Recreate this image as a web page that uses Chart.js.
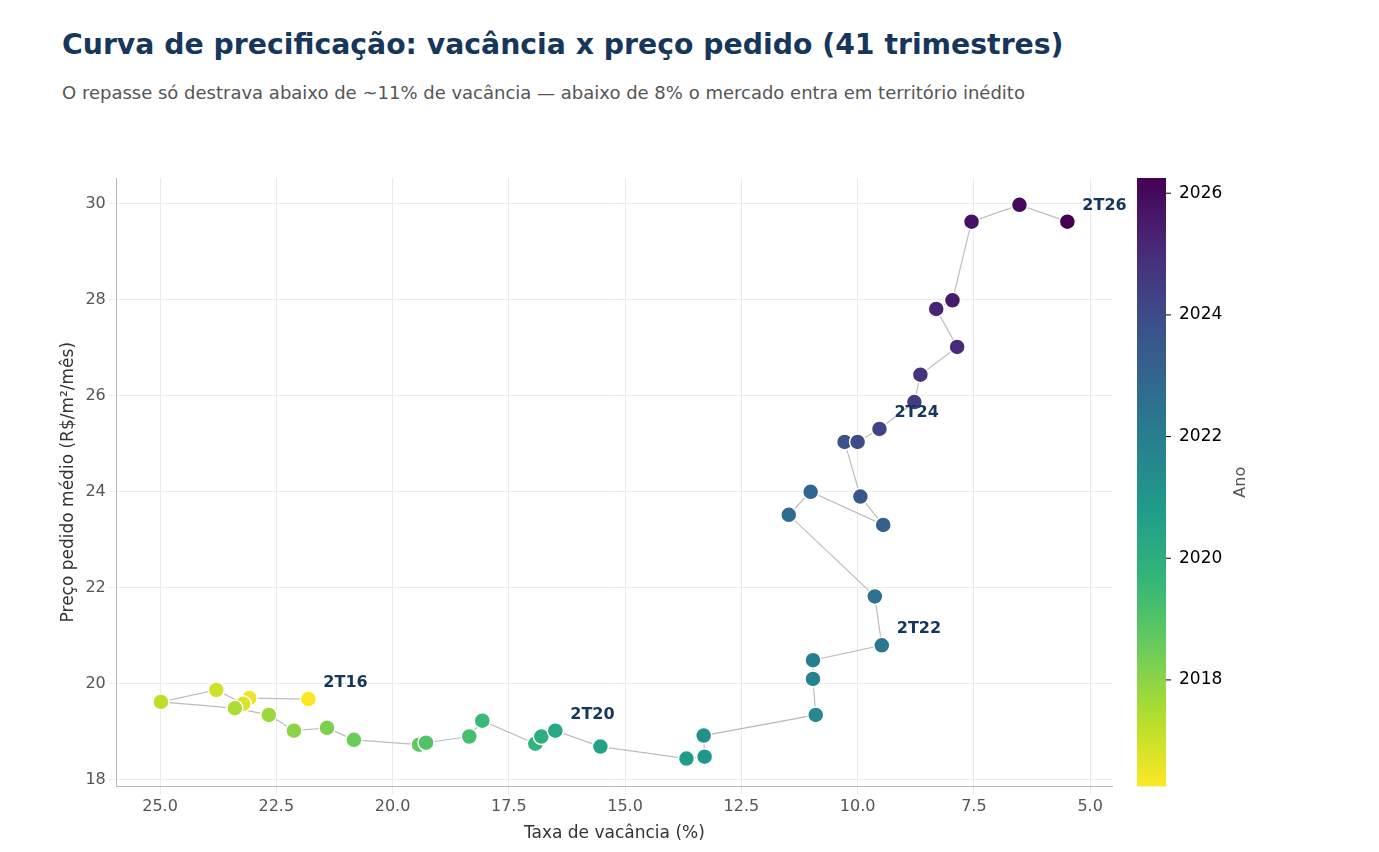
<!DOCTYPE html>
<html><head><meta charset="utf-8">
<script src="https://cdn.jsdelivr.net/npm/chart.js@4/dist/chart.umd.min.js"></script>
<style>
body{margin:0;background:#fff;font-family:"DejaVu Sans",sans-serif;}
#wrap{position:relative;width:1379px;height:852px;}
#titulo{position:absolute;left:62px;top:28px;font-size:28.3px;font-weight:bold;color:#16365c;}
#sub{position:absolute;left:62px;top:82px;font-size:18px;color:#555;}
canvas{position:absolute;left:0;top:0;}
</style></head><body>
<div id="wrap">
<div id="titulo">Curva de precificação: vacância x preço pedido (41 trimestres)</div>
<div id="sub">O repasse só destrava abaixo de ~11% de vacância — abaixo de 8% o mercado entra em território inédito</div>
<canvas id="c" width="1379" height="852"></canvas>
</div>
<script>
// vacância (%) e preço pedido por trimestre, 2T16 -> 2T26
const vacancia = [21.81,23.08,23.21,23.79,24.98,23.39,22.66,22.12,21.41,20.83,19.43,19.28,18.35,18.07,16.93,16.80,16.50,15.53,13.68,13.29,13.31,10.90,10.96,10.96,9.48,9.63,11.48,11.01,9.45,9.94,10.28,10.00,9.53,8.78,8.65,7.86,8.31,7.96,7.55,6.52,5.49];
const preco = [19.68,19.70,19.58,19.87,19.62,19.49,19.35,19.02,19.08,18.83,18.73,18.77,18.90,19.23,18.75,18.90,19.02,18.69,18.44,18.48,18.92,19.35,20.10,20.49,20.80,21.82,23.52,24.00,23.31,23.90,25.04,25.04,25.31,25.87,26.44,27.02,27.81,27.99,29.63,29.98,29.63];
const rotulos = {0:"2T16",16:"2T20",24:"2T22",32:"2T24",40:"2T26"};
const anoTicks = [2018,2020,2022,2024,2026];
const anoMin = 2016.25, anoMax = 2026.25;

Chart.defaults.font.family = "'DejaVu Sans', sans-serif";

// viridis
const viridis = [[68,1,84],[72,40,120],[62,74,137],[49,104,142],[38,130,142],[31,158,137],[53,183,121],[109,205,89],[180,222,44],[253,231,37]];
function corViridis(t) {
  t = Math.max(0, Math.min(1, t));
  const p = t * (viridis.length - 1), i = Math.min(Math.floor(p), viridis.length - 2), f = p - i;
  const a = viridis[i], b = viridis[i + 1];
  return `rgb(${a.map((v, k) => Math.round(v + (b[k] - v) * f)).join(",")})`;
}
// ano 2016 -> amarelo, 2026 -> roxo
const cores = vacancia.map((_, i) => corViridis(1 - i / 40));

const pontos = vacancia.map((v, i) => ({ x: v, y: preco[i] }));

const plugExtras = {
  id: "extras",
  afterDatasetsDraw(chart) {
    const ctx = chart.ctx, meta = chart.getDatasetMeta(1);
    ctx.save();
    ctx.font = "bold 16px 'DejaVu Sans'";
    ctx.fillStyle = "#16365c";
    ctx.textBaseline = "middle";
    for (const k in rotulos) {
      const el = meta.data[k];
      ctx.fillText(rotulos[k], el.x + 15, el.y - 16);
    }
    // colorbar
    const a = chart.chartArea, x0 = 1137, w = 29;
    const g = ctx.createLinearGradient(0, a.bottom, 0, a.top);
    for (let i = 0; i <= 20; i++) g.addColorStop(i / 20, corViridis(1 - i / 20));
    ctx.fillStyle = g;
    ctx.fillRect(x0, a.top, w, a.bottom - a.top);
    ctx.font = "17px 'DejaVu Sans'";
    ctx.fillStyle = "#000";
    ctx.strokeStyle = "#000";
    anoTicks.forEach(ano => {
      const y = a.bottom - (ano - anoMin) / (anoMax - anoMin) * (a.bottom - a.top);
      ctx.beginPath(); ctx.moveTo(x0 + w, y); ctx.lineTo(x0 + w + 5, y); ctx.stroke();
      ctx.fillText(String(ano), x0 + w + 13, y);
    });
    ctx.translate(1241, (a.top + a.bottom) / 2);
    ctx.rotate(-Math.PI / 2);
    ctx.textAlign = "center";
    ctx.fillStyle = "#555";
    ctx.font = "16px 'DejaVu Sans'";
    ctx.fillText("Ano", 0, 0);
    ctx.restore();
  }
};

new Chart(document.getElementById("c"), {
  type: "scatter",
  data: {
    datasets: [
      { data: pontos, showLine: true, borderColor: "#bdbdbd", borderWidth: 1.2, pointRadius: 0, order: 2 },
      { data: pontos, backgroundColor: cores, borderColor: "#fff", borderWidth: 1.5, pointRadius: 8, pointHoverRadius: 8, order: 1 }
    ]
  },
  options: {
    responsive: false,
    animation: false,
    layout: { padding: { top: 178, right: 267, bottom: 4, left: 54 } },
    plugins: { legend: { display: false }, tooltip: { enabled: false } },
    scales: {
      x: {
        type: "linear", reverse: true, min: 4.53, max: 25.93,
        afterBuildTicks(ax) { ax.ticks = [25, 22.5, 20, 17.5, 15, 12.5, 10, 7.5, 5].map(v => ({ value: v })); },
        ticks: { color: "#555", font: { size: 16 }, callback: v => v.toFixed(1) },
        grid: { color: "#ebebeb" },
        border: { color: "#bbb" },
        title: { display: true, text: "Taxa de vacância (%)", color: "#333", font: { size: 17 } }
      },
      y: {
        min: 17.86, max: 30.54,
        afterBuildTicks(ax) { ax.ticks = [18, 20, 22, 24, 26, 28, 30].map(v => ({ value: v })); },
        ticks: { color: "#555", font: { size: 16 } },
        grid: { color: "#ebebeb" },
        border: { color: "#bbb" },
        title: { display: true, text: "Preço pedido médio (R$/m²/mês)", color: "#333", font: { size: 17 } }
      }
    }
  },
  plugins: [plugExtras]
});
</script>
</body></html>
